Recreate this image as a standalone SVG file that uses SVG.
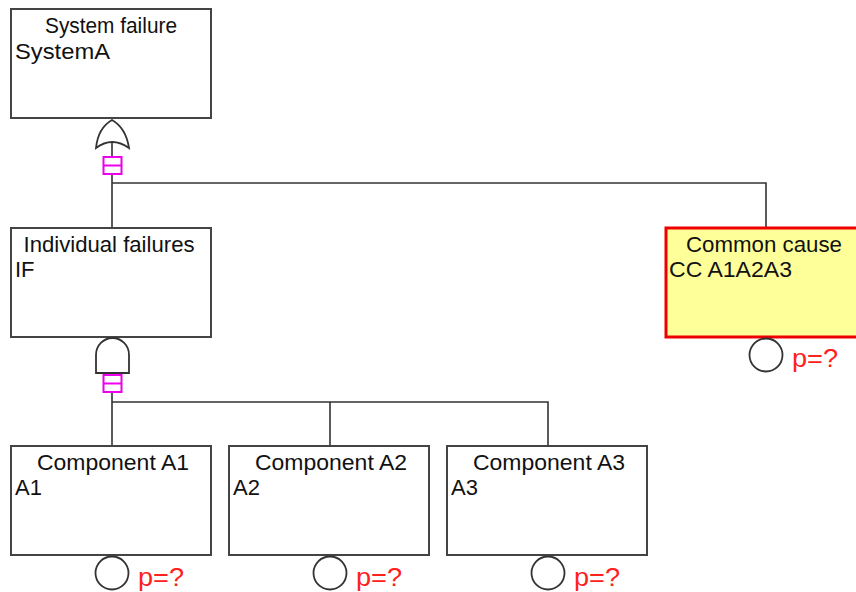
<svg xmlns="http://www.w3.org/2000/svg" width="856" height="592" viewBox="0 0 856 592">
<style>
.box{fill:#fff;stroke:#444;stroke-width:2}
.cc{fill:#ffff99;stroke:#ee0000;stroke-width:3}
.t{font-family:"Liberation Sans",Arial,sans-serif;font-size:22px;fill:#111}
.p{font-family:"Liberation Sans",Arial,sans-serif;font-size:25px;fill:#ff2020}
.ev{fill:#fff;stroke:#333;stroke-width:1.8}
.gate{fill:#fff;stroke:#333;stroke-width:1.8}
.tr{fill:#fff;stroke:#ee00ee;stroke-width:2}
.ln{fill:none;stroke:#333;stroke-width:1.6}
</style>
<rect width="856" height="592" fill="#fff"/>
<g id="connectors">
<path class="ln" d="M112,142 V157 M112,175 V183 H766 V228 M112,183 V228"/>
<path class="ln" d="M112,393 V402 H548 V446 M330,402 V446 M112,402 V446"/>
</g>
<g id="system-failure">
<rect class="box" x="11" y="9" width="200" height="109"/>
<text class="t" x="111" y="33" text-anchor="middle" textLength="132" lengthAdjust="spacingAndGlyphs">System failure</text>
<text class="t" x="15" y="59" textLength="95" lengthAdjust="spacingAndGlyphs">SystemA</text>
<path class="gate" d="M96,148 Q98,128 112,120 Q126,128 129,148 Q112,136 96,148 Z"/>
<rect class="tr" x="103.5" y="157" width="18" height="17"/>
<line class="tr" x1="103.5" y1="165.5" x2="121.5" y2="165.5"/>
</g>
<g id="individual-failures">
<rect class="box" x="11" y="228" width="200" height="109"/>
<text class="t" x="109" y="252" text-anchor="middle" textLength="171" lengthAdjust="spacingAndGlyphs">Individual failures</text>
<text class="t" x="15" y="277">IF</text>
<path class="gate" d="M96,373 V355 A16.5,17 0 0 1 129,355 V373 Z"/>
<rect class="tr" x="103.5" y="375" width="18" height="17"/>
<line class="tr" x1="103.5" y1="383.5" x2="121.5" y2="383.5"/>
</g>
<g id="common-cause">
<rect class="cc" x="666" y="228" width="200" height="109"/>
<text class="t" x="764" y="252" text-anchor="middle" textLength="156" lengthAdjust="spacingAndGlyphs">Common cause</text>
<text class="t" x="669" y="277" textLength="123" lengthAdjust="spacingAndGlyphs">CC A1A2A3</text>
<circle class="ev" cx="766" cy="355" r="16.5"/>
<text class="p" x="792" y="367" textLength="46" lengthAdjust="spacingAndGlyphs">p=?</text>
</g>
<g id="component-a1">
<rect class="box" x="11" y="446" width="200" height="109"/>
<text class="t" x="113" y="470" text-anchor="middle" textLength="152" lengthAdjust="spacingAndGlyphs">Component A1</text>
<text class="t" x="15" y="495">A1</text>
<circle class="ev" cx="112" cy="573" r="16.5"/>
<text class="p" x="138" y="586" textLength="46" lengthAdjust="spacingAndGlyphs">p=?</text>
</g>
<g id="component-a2">
<rect class="box" x="229" y="446" width="200" height="109"/>
<text class="t" x="331" y="470" text-anchor="middle" textLength="152" lengthAdjust="spacingAndGlyphs">Component A2</text>
<text class="t" x="233" y="495">A2</text>
<circle class="ev" cx="330" cy="573" r="16.5"/>
<text class="p" x="356" y="586" textLength="46" lengthAdjust="spacingAndGlyphs">p=?</text>
</g>
<g id="component-a3">
<rect class="box" x="447" y="446" width="200" height="109"/>
<text class="t" x="549" y="470" text-anchor="middle" textLength="152" lengthAdjust="spacingAndGlyphs">Component A3</text>
<text class="t" x="451" y="495">A3</text>
<circle class="ev" cx="548" cy="573" r="16.5"/>
<text class="p" x="574" y="586" textLength="46" lengthAdjust="spacingAndGlyphs">p=?</text>
</g>
</svg>
